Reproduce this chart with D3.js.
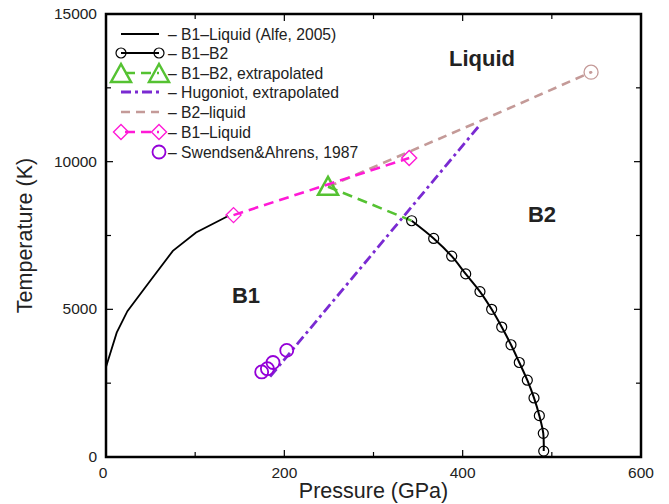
<!DOCTYPE html>
<html>
<head>
<meta charset="utf-8">
<script src="https://cdn.jsdelivr.net/npm/d3@7"></script>
<style>
  body { margin: 0; background: #fff; }
  text { font-family: "Liberation Sans", Arial, Helvetica, sans-serif; }
</style>
</head>
<body>
<script>
// B1-Liquid melting curve (Alfe, 2005)
var alfeP = [0, 12, 24, 49, 75, 101, 137]
var alfeT = [3050, 4210, 4940, 5940, 6980, 7600, 8160]

// B1-B2 boundary
var b1b2P = [342.8, 367.5, 387.7, 403.4, 419.4, 432.5, 443.8, 454.2, 463.5, 472.5, 480, 486, 490.4, 490.9]
var b1b2T = [8000, 7400, 6800, 6200, 5600, 5000, 4400, 3800, 3200, 2600, 2000, 1400, 800, 200]

// B1-B2 extrapolated
var extP = [249, 342.8]
var extT = [9150, 8000]

// Hugoniot extrapolated
var hugP = [184, 420]
var hugT = [2720, 11270]

// B2-liquid
var b2lP = [249, 420, 544]
var b2lT = [9150, 11380, 13030]

// B1-Liquid
var b1lP = [143, 340]
var b1lT = [8190, 10125]

// Swendsen & Ahrens, 1987
var swP = [174.6, 181, 187.3, 202.7]
var swT = [2880, 2990, 3200, 3610]

var xTicks = [0, 200, 400, 600]
var xMinor = [100, 300, 500]
var yTicks = [0, 5000, 10000, 15000]
var yMinor = [2500, 7500, 12500]

var legendLabels = ['B1\u2013Liquid (Alfe, 2005)', 'B1\u2013B2', 'B1\u2013B2, extrapolated',
  'Hugoniot, extrapolated', 'B2\u2013liquid', 'B1\u2013Liquid', 'Swendsen&Ahrens, 1987']

var cPink = '#ff1ad6', cGreen = '#55c232', cHug = '#7a2ad2', cSw = '#9400d8', cBrown = '#c49a98'

var width = 669, height = 504
var svg = d3.select('body').append('svg')
  .attr('width', width)
  .attr('height', height)

var x = d3.scaleLinear().domain([0, 600]).range([106, 641])
var y = d3.scaleLinear().domain([0, 15000]).range([457, 14])

function pts(P, T) { return P.map(function(p, i) { return [p, T[i]] }) }
var line = d3.line().x(function(d) { return x(d[0]) }).y(function(d) { return y(d[1]) })

// ticks, all four sides, pointing inward
var tg = svg.append('g').attr('stroke', '#000').attr('stroke-width', 1.2)
xTicks.concat(xMinor).forEach(function(v) {
  var len = xTicks.indexOf(v) >= 0 ? 7 : 5
  tg.append('line').attr('x1', x(v)).attr('x2', x(v)).attr('y1', y(0)).attr('y2', y(0) - len)
  tg.append('line').attr('x1', x(v)).attr('x2', x(v)).attr('y1', y(15000)).attr('y2', y(15000) + len)
})
yTicks.concat(yMinor).forEach(function(v) {
  var len = yTicks.indexOf(v) >= 0 ? 7 : 5
  tg.append('line').attr('y1', y(v)).attr('y2', y(v)).attr('x1', x(0)).attr('x2', x(0) + len)
  tg.append('line').attr('y1', y(v)).attr('y2', y(v)).attr('x1', x(600)).attr('x2', x(600) - len)
})

// tick labels
svg.append('g').selectAll('text').data(xTicks).enter().append('text')
  .attr('x', function(d) { return x(d) - (d == 0 ? 3 : 0) })
  .attr('y', 478)
  .attr('text-anchor', 'middle')
  .style('font-size', '15.5px')
  .attr('fill', '#222')
  .text(function(d) { return d })
svg.append('g').selectAll('text').data(yTicks).enter().append('text')
  .attr('x', 97)
  .attr('y', function(d) { return y(d) + 5 })
  .attr('text-anchor', 'end')
  .style('font-size', '15.5px')
  .attr('fill', '#222')
  .text(function(d) { return d })

// axis titles
svg.append('text')
  .attr('x', (x(0) + x(600)) / 2)
  .attr('y', 498)
  .attr('text-anchor', 'middle')
  .style('font-size', '21.5px')
  .attr('fill', '#222')
  .text('Pressure (GPa)')
svg.append('g')
  .attr('transform', 'translate(32,' + (y(0) + y(15000)) / 2 + ')')
  .append('text')
  .attr('transform', 'rotate(-90)')
  .attr('text-anchor', 'middle')
  .style('font-size', '21.5px')
  .attr('fill', '#222')
  .text('Temperature (K)')

// region labels
var regions = [['Liquid', 482, 66], ['B2', 542, 222], ['B1', 246, 303]]
regions.forEach(function(r) {
  svg.append('text').attr('x', r[1]).attr('y', r[2])
    .attr('text-anchor', 'middle')
    .style('font-size', '22px').style('font-weight', 'bold')
    .attr('fill', '#222').text(r[0])
})

// marker helpers
function circle(g, cx, cy, r, col, sw) {
  g.append('circle').attr('cx', cx).attr('cy', cy).attr('r', r)
    .attr('fill', 'none').attr('stroke', col).attr('stroke-width', sw)
}
function triangle(g, cx, cy, col) {
  g.append('path').attr('d', 'M' + cx + ',' + (cy - 10) + 'L' + (cx + 10) + ',' + (cy + 8) + 'L' + (cx - 10) + ',' + (cy + 8) + 'Z')
    .attr('fill', 'none').attr('stroke', col).attr('stroke-width', 2.5)
}
function diamond(g, cx, cy, col) {
  g.append('path').attr('d', 'M' + cx + ',' + (cy - 7.5) + 'L' + (cx + 7.5) + ',' + cy + 'L' + cx + ',' + (cy + 7.5) + 'L' + (cx - 7.5) + ',' + cy + 'Z')
    .attr('fill', 'none').attr('stroke', col).attr('stroke-width', 1.4)
}

var plot = svg.append('g')

// Alfe line
plot.append('path').datum(pts(alfeP, alfeT)).attr('d', line)
  .attr('fill', 'none').attr('stroke', '#000').attr('stroke-width', 1.8)

// B2-liquid
plot.append('path').datum(pts(b2lP, b2lT)).attr('d', line)
  .attr('fill', 'none').attr('stroke', cBrown).attr('stroke-width', 2.6).attr('stroke-dasharray', '9,6')
circle(plot, x(b2lP[2]), y(b2lT[2]), 7, cBrown, 1.3)
plot.append('circle').attr('cx', x(b2lP[2])).attr('cy', y(b2lT[2])).attr('r', 1.3).attr('fill', cBrown)

// Hugoniot
plot.append('path').datum(pts(hugP, hugT)).attr('d', line)
  .attr('fill', 'none').attr('stroke', cHug).attr('stroke-width', 2.8).attr('stroke-dasharray', '10,4,3,4')

// B1-B2 extrapolated
plot.append('path').datum(pts(extP, extT)).attr('d', line)
  .attr('fill', 'none').attr('stroke', cGreen).attr('stroke-width', 2.6).attr('stroke-dasharray', '10,6')
triangle(plot, x(extP[0]), y(extT[0]), cGreen)

// B1-Liquid
plot.append('path').datum(pts(b1lP, b1lT)).attr('d', line)
  .attr('fill', 'none').attr('stroke', cPink).attr('stroke-width', 2.6).attr('stroke-dasharray', '10,6')
b1lP.forEach(function(p, i) { diamond(plot, x(p), y(b1lT[i]), cPink) })

// B1-B2
plot.append('path').datum(pts(b1b2P, b1b2T)).attr('d', line.curve(d3.curveCatmullRom))
  .attr('fill', 'none').attr('stroke', '#000').attr('stroke-width', 2)
line.curve(d3.curveLinear)
b1b2P.forEach(function(p, i) { circle(plot, x(p), y(b1b2T[i]), 5, '#000', 1.2) })

// Swendsen & Ahrens
swP.forEach(function(p, i) { circle(plot, x(p), y(swT[i]), 6.5, cSw, 1.8) })

// legend
var lg = svg.append('g')
var rows = [34, 53, 73, 92, 112, 132, 152]
var lx1 = 121, lx2 = 159
rows.forEach(function(ry, i) {
  lg.append('text').attr('x', 168).attr('y', ry + 5.5)
    .style('font-size', '15.7px').attr('fill', '#222')
    .text('\u2013 ' + legendLabels[i])
})
lg.append('line').attr('x1', lx1).attr('x2', lx2).attr('y1', rows[0]).attr('y2', rows[0])
  .attr('stroke', '#000').attr('stroke-width', 1.8)
lg.append('line').attr('x1', lx1).attr('x2', lx2).attr('y1', rows[1]).attr('y2', rows[1])
  .attr('stroke', '#000').attr('stroke-width', 2)
circle(lg, lx1, rows[1], 5, '#000', 1.2)
circle(lg, lx2, rows[1], 5, '#000', 1.2)
lg.append('line').attr('x1', lx1).attr('x2', lx2).attr('y1', rows[2]).attr('y2', rows[2])
  .attr('stroke', cGreen).attr('stroke-width', 2.6).attr('stroke-dasharray', '10,6').attr('stroke-dashoffset', -4)
triangle(lg, lx1, rows[2] + 1, cGreen)
triangle(lg, lx2, rows[2] + 1, cGreen)
lg.append('line').attr('x1', lx1).attr('x2', lx2).attr('y1', rows[3]).attr('y2', rows[3])
  .attr('stroke', cHug).attr('stroke-width', 2.8).attr('stroke-dasharray', '10,4,3,4')
lg.append('line').attr('x1', lx1).attr('x2', lx2).attr('y1', rows[4]).attr('y2', rows[4])
  .attr('stroke', cBrown).attr('stroke-width', 2.6).attr('stroke-dasharray', '9,6')
lg.append('line').attr('x1', lx1).attr('x2', lx2).attr('y1', rows[5]).attr('y2', rows[5])
  .attr('stroke', cPink).attr('stroke-width', 2.6).attr('stroke-dasharray', '10,6').attr('stroke-dashoffset', -4)
diamond(lg, lx1, rows[5], cPink)
diamond(lg, lx2, rows[5], cPink)
circle(lg, lx2, rows[6], 6.5, cSw, 1.8)

// frame
svg.append('rect')
  .attr('x', x(0)).attr('y', y(15000))
  .attr('width', x(600) - x(0)).attr('height', y(0) - y(15000))
  .attr('fill', 'none').attr('stroke', '#000').attr('stroke-width', 2.5)
</script>
</body>
</html>
